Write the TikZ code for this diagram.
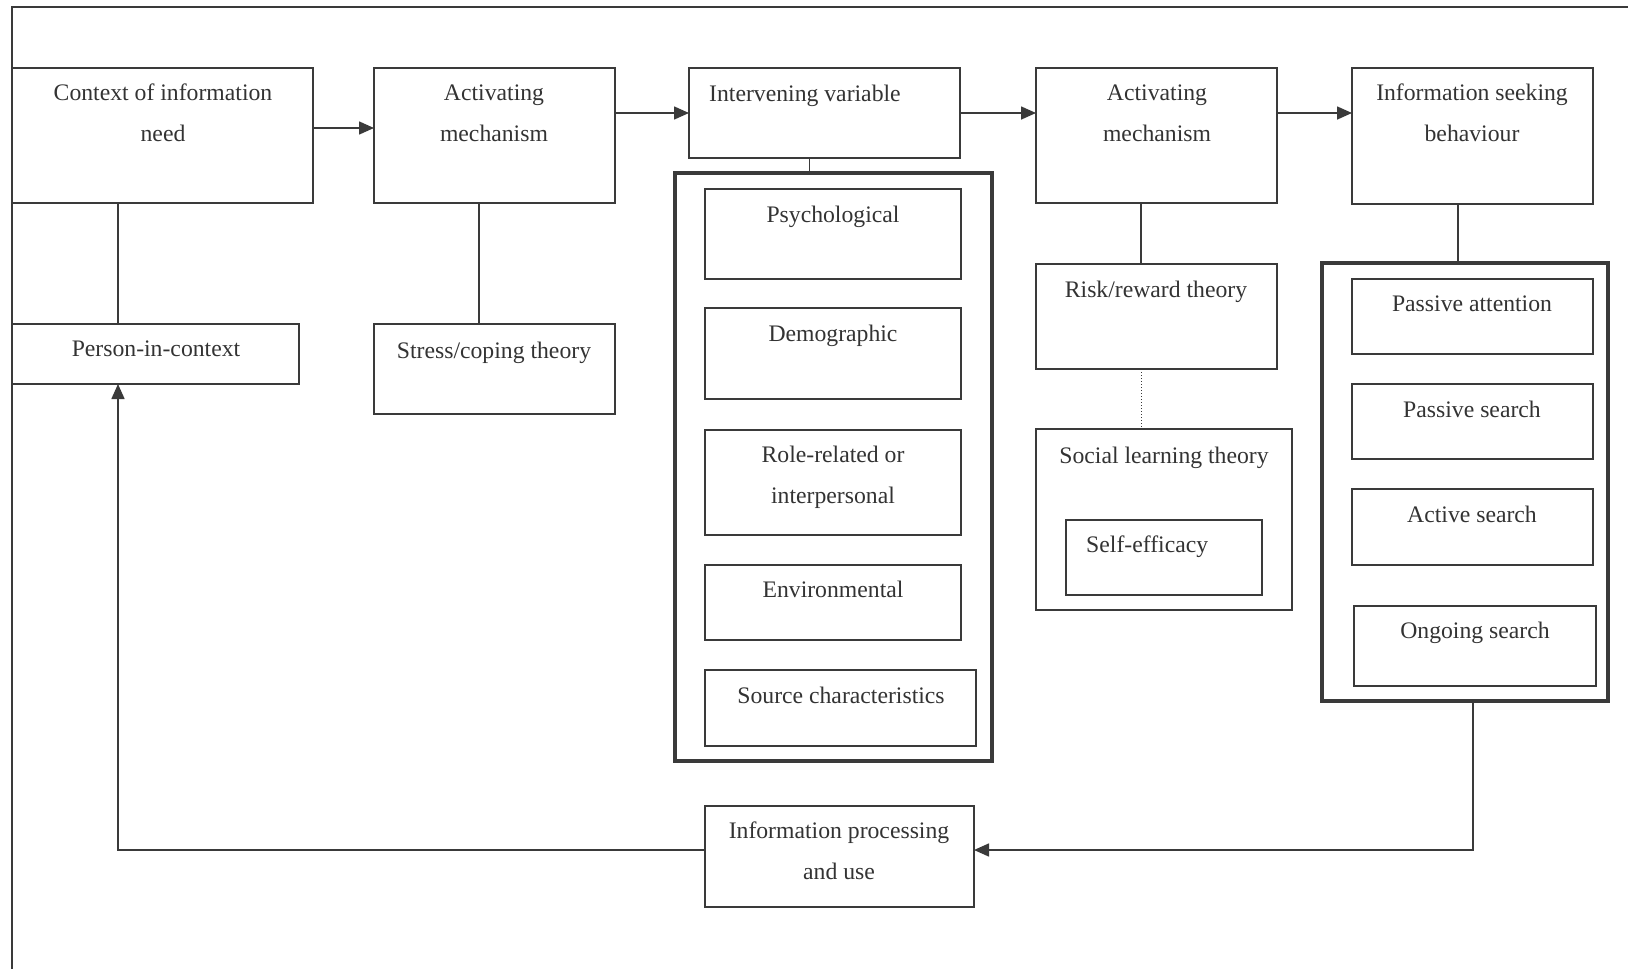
\documentclass[tikz,border=0pt]{standalone}
\usepackage{fontspec}
\setmainfont{Liberation Serif}
\usetikzlibrary{arrows.meta}
\definecolor{lc}{HTML}{3A3A3A}
\definecolor{tc}{HTML}{333333}
\begin{document}
\begin{tikzpicture}[x=1pt,y=-1pt,
  ln/.style={draw=lc,line width=1.6pt},
  box/.style={ln,rectangle,inner sep=0pt,outer sep=0pt,anchor=north west},
  grp/.style={box,line width=3.6pt},
  txt/.style={text=tc,font=\fontsize{23.7}{41}\selectfont,inner sep=0pt,align=center},
  one/.style={txt,anchor=mid,yshift=-6pt},
  onel/.style={txt,anchor=mid west,yshift=-6pt},
  arr/.style={ln,-{Triangle[length=15pt,width=13pt]}}]
\useasboundingbox (0,0) rectangle (1628,969);
% partial frame
\draw[ln,line width=2.4pt] (12,969) -- (12,7) -- (1628,7);
% boxes
\node[box,minimum width=301pt,minimum height=135pt] (ctx) at (12,68) {};
\node[box,minimum width=287pt,minimum height=60pt] (person) at (12,324) {};
\node[box,minimum width=241pt,minimum height=135pt] (act1) at (374,68) {};
\node[box,minimum width=241pt,minimum height=90pt] (stress) at (374,324) {};
\node[box,minimum width=271pt,minimum height=90pt] (interv) at (689,68) {};
\node[grp,minimum width=317pt,minimum height=588pt] (grp1) at (675,173) {};
\node[box,minimum width=256pt,minimum height=90pt] (psych) at (705,189) {};
\node[box,minimum width=256pt,minimum height=91pt] (demo) at (705,308) {};
\node[box,minimum width=256pt,minimum height=105pt] (role) at (705,430) {};
\node[box,minimum width=256pt,minimum height=75pt] (env) at (705,565) {};
\node[box,minimum width=271pt,minimum height=76pt] (source) at (705,670) {};
\node[box,minimum width=241pt,minimum height=135pt] (act2) at (1036,68) {};
\node[box,minimum width=241pt,minimum height=105pt] (risk) at (1036,264) {};
\node[box,minimum width=256pt,minimum height=181pt] (social) at (1036,429) {};
\node[box,minimum width=196pt,minimum height=75pt] (selfeff) at (1066,520) {};
\node[box,minimum width=241pt,minimum height=136pt] (infoseek) at (1352,68) {};
\node[grp,minimum width=286pt,minimum height=438pt] (grp2) at (1322,263) {};
\node[box,minimum width=241pt,minimum height=75pt] (pattn) at (1352,279) {};
\node[box,minimum width=241pt,minimum height=75pt] (psearch) at (1352,384) {};
\node[box,minimum width=241pt,minimum height=76pt] (asearch) at (1352,489) {};
\node[box,minimum width=242pt,minimum height=80pt] (ongoing) at (1354,606) {};
\node[box,minimum width=269pt,minimum height=101pt] (proc) at (705,806) {};
% texts
\node[txt] (tctx) at (163,113) {Context of information\\need};
\node[txt] (tact1) at (494,113) {Activating\\mechanism};
\node[onel] (tinterv) at (709,93) {Intervening variable};
\node[txt] (tact2) at (1157,113) {Activating\\mechanism};
\node[txt] (tinfoseek) at (1472,113) {Information seeking\\behaviour};
\node[one] (tperson) at (156,348) {Person-in-context};
\node[one] (tstress) at (494,350) {Stress/coping theory};
\node[one] (tpsych) at (833,214) {Psychological};
\node[one] (tdemo) at (833,333) {Demographic};
\node[txt] (trole) at (833,477.5) {Role-related or\\interpersonal};
\node[one] (tenv) at (833,589) {Environmental};
\node[one] (tsource) at (841,695) {Source characteristics};
\node[one] (trisk) at (1156,289) {Risk/reward theory};
\node[one] (tsocial) at (1164,455) {Social learning theory};
\node[onel] (tselfeff) at (1086,544) {Self-efficacy};
\node[one] (tpattn) at (1472,303) {Passive attention};
\node[one] (tpsearch) at (1472,409) {Passive search};
\node[one] (tasearch) at (1472,514) {Active search};
\node[one] (tongoing) at (1475,630) {Ongoing search};
\node[txt] (tproc) at (839,851) {Information processing\\and use};
% connector coordinates
\coordinate (fl) at (118,850);
\coordinate (fr) at (1473,850);
% top row arrows
\draw[arr] ([yshift=7.5pt]ctx.east) -- ([yshift=7.5pt]ctx.east -| act1.west);
\draw[arr] (interv.west -| act1.east) -- (interv.west);
\draw[arr] (interv.east) -- (interv.east -| act2.west);
\draw[arr] (act2.east |- interv.east) -- (infoseek.west |- interv.east);
% vertical links
\draw[ln] (ctx.south -| fl) -- (person.north -| fl);
\draw[ln] ([xshift=-15.5pt]act1.south) -- ([xshift=-15.5pt]stress.north);
\draw[ln] ([xshift=-15pt]interv.south) -- ([xshift=-15pt]interv.south |- grp1.north);
\draw[ln] ([xshift=-15.5pt]act2.south) -- ([xshift=-15.5pt]risk.north);
\draw[lc,line width=1pt,dotted] ([xshift=-15.5pt]risk.south) -- ([xshift=-15.5pt]risk.south |- social.north);
\draw[ln] ([xshift=-14.5pt]infoseek.south) -- ([xshift=-14.5pt]infoseek.south |- grp2.north);
% feedback loop
\draw[arr] (grp2.south -| fr) -- (fr) -- (proc.east |- fr);
\draw[arr] (proc.west |- fl) -- (fl) -- (person.south -| fl);
\end{tikzpicture}
\end{document}
